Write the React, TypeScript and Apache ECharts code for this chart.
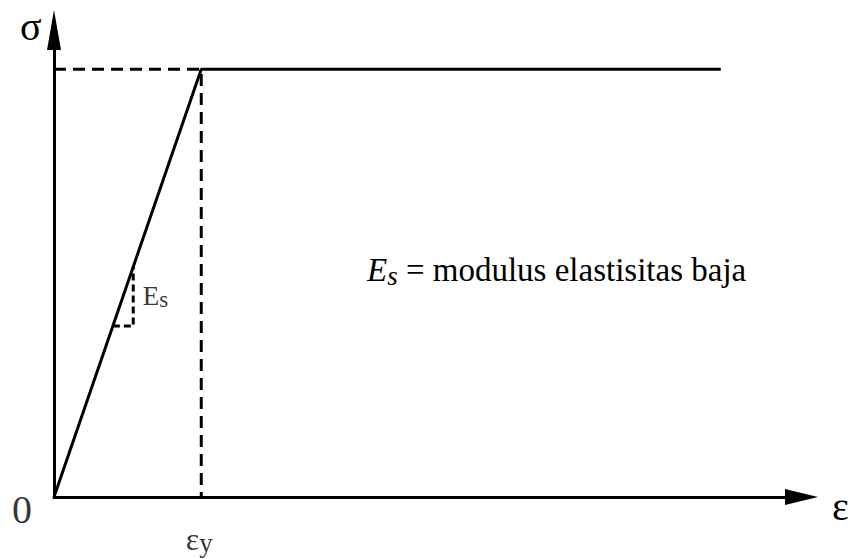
import React, { useEffect, useRef } from "react";
import * as echarts from "echarts";

// Idealised elastic–perfectly-plastic stress–strain curve of steel (normalised units)
const strainRange = [0, 100];
const stressRange = [0, 100];
const yieldStrain = 19.7;
const yieldStress = 91.6;
const plateauEndStrain = 89.2;

// bilinear curve: origin → yield point → plastic plateau
const curveStrain = [0, yieldStrain, plateauEndStrain];
const curveStress = [0, yieldStress, yieldStress];

// dashed guides from the yield point to both axes
const guideStrain = [0, yieldStrain, yieldStrain];
const guideStress = [yieldStress, yieldStress, 0];

// slope marker on the elastic branch
const slopeStrain = [7.87, 10.6, 10.6];
const slopeStress = [36.6, 36.6, 49.3];

const modulusSymbol = "E";
const modulusSubscript = "s";
const legendText = " = modulus elastisitas baja";

const FONT = "Liberation Serif";

const zip = (xs: number[], ys: number[]) => xs.map((x, i) => [x, ys[i]]);

export default function App() {
  const ref = useRef<HTMLDivElement>(null);

  useEffect(() => {
    if (!ref.current) return;
    const chart = echarts.init(ref.current, undefined, { renderer: "svg" });

    const axisCommon = {
      type: "value" as const,
      axisTick: { show: false },
      axisLabel: { show: false },
      splitLine: { show: false },
    };

    chart.setOption({
      animation: false,
      backgroundColor: "#ffffff",
      textStyle: { fontFamily: FONT },
      title: {
        left: 367,
        top: 251,
        padding: 0,
        text: `{e|${modulusSymbol}}{s|${modulusSubscript}}{t|${legendText}}`,
        textStyle: {
          fontFamily: FONT,
          fontSize: 33,
          fontWeight: "normal",
          color: "#000",
          rich: {
            e: { fontFamily: FONT, fontStyle: "italic", fontSize: 33, lineHeight: 38, color: "#000" },
            s: { fontFamily: FONT, fontStyle: "italic", fontSize: 27, lineHeight: 26, verticalAlign: "bottom", color: "#000" },
            t: { fontFamily: FONT, fontStyle: "normal", fontSize: 33, lineHeight: 38, color: "#000" },
          },
        },
      },
      grid: { left: 54, right: 49.5, top: 30, bottom: 62 },
      xAxis: {
        ...axisCommon,
        min: strainRange[0],
        max: strainRange[1],
        axisLine: {
          show: true,
          onZero: false,
          symbol: ["none", "triangle"],
          symbolSize: [16, 33],
          lineStyle: { color: "#000", width: 3 },
        },
      },
      yAxis: {
        ...axisCommon,
        min: stressRange[0],
        max: stressRange[1],
        axisLine: {
          show: true,
          onZero: false,
          symbol: ["none", "triangle"],
          symbolSize: [14, 40],
          lineStyle: { color: "#000", width: 3 },
        },
      },
      series: [
        {
          type: "line",
          data: zip(guideStrain, guideStress),
          symbol: "none",
          lineStyle: { color: "#000", width: 3, type: [12, 7] },
          z: 2,
        },
        {
          type: "line",
          data: zip(slopeStrain, slopeStress),
          symbol: "none",
          lineStyle: { color: "#000", width: 3, type: [7, 4] },
          z: 2,
        },
        {
          type: "line",
          data: zip(curveStrain, curveStress),
          symbol: "none",
          lineStyle: { color: "#000", width: 3 },
          z: 3,
        },
        {
          type: "scatter",
          symbolSize: 1,
          itemStyle: { color: "transparent" },
          z: 4,
          data: [
            {
              value: [0, 0],
              label: {
                show: true,
                position: "inside",
                offset: [-32, 12],
                formatter: "0",
                fontFamily: FONT,
                fontSize: 40,
                color: "#000",
              },
            },
            {
              value: [yieldStrain, 0],
              label: {
                show: true,
                position: "inside",
                offset: [-2, 42],
                formatter: "{a|ε}{b|y}",
                rich: {
                  a: { fontFamily: FONT, fontSize: 32, lineHeight: 34, color: "#000" },
                  b: { fontFamily: FONT, fontSize: 27, lineHeight: 27, verticalAlign: "bottom", color: "#000" },
                },
              },
            },
            {
              value: [slopeStrain[2], (slopeStress[1] + slopeStress[2]) / 2],
              label: {
                show: true,
                position: "right",
                distance: 9,
                formatter: `{a|${modulusSymbol}}{b|${modulusSubscript}}`,
                rich: {
                  a: { fontFamily: FONT, fontSize: 27, lineHeight: 30, color: "#000" },
                  b: { fontFamily: FONT, fontSize: 23, lineHeight: 23, verticalAlign: "bottom", color: "#000" },
                },
              },
            },
          ],
        },
      ],
      graphic: [
        {
          type: "text",
          left: 20,
          top: 6,
          style: { text: "σ", font: `40px ${FONT}`, fill: "#000" },
        },
        {
          type: "text",
          left: 832,
          top: 486,
          style: { text: "ε", font: `40px ${FONT}`, fill: "#000" },
        },
      ],
    });

    return () => chart.dispose();
  }, []);

  return (
    <div
      ref={ref}
      style={{ position: "fixed", left: 0, top: 0, width: 851, height: 559, background: "#fff" }}
    />
  );
}
